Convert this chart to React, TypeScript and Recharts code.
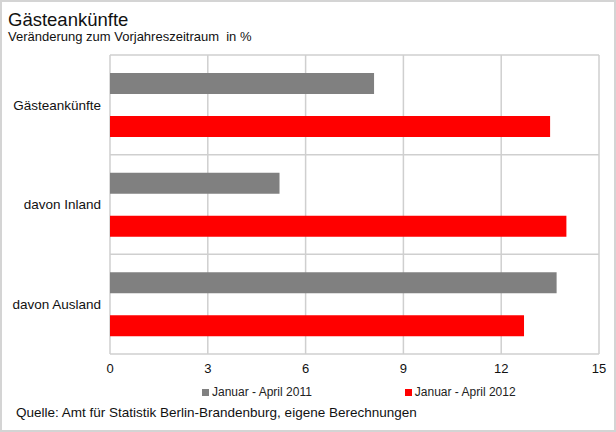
import { BarChart, Bar, XAxis, YAxis, CartesianGrid } from "recharts"

const CATEGORIES = ["Gästeankünfte", "davon Inland", "davon Ausland"]
const SERIES_2011 = [8.1, 5.2, 13.7]
const SERIES_2012 = [13.5, 14.0, 12.7]
const X_TICKS = [0, 3, 6, 9, 12, 15]
const SERIES = [
  { key: "y2011", name: "Januar - April 2011", color: "#808080" },
  { key: "y2012", name: "Januar - April 2012", color: "#ff0000" },
]

const data = CATEGORIES.map((c, i) => ({ cat: c, y2011: SERIES_2011[i], y2012: SERIES_2012[i] }))

const FONT = "'Liberation Sans', Arial, sans-serif"

// legend sits under the plot, a little right of centre like the original
function ChartLegend() {
  return (
    <div
      style={{
        position: "absolute",
        left: 200,
        top: 383,
        display: "flex",
        gap: 93,
        fontSize: 12,
        color: "#222",
        lineHeight: "14px",
      }}
    >
      {SERIES.map((s) => (
        <span key={s.key} style={{ display: "flex", alignItems: "center" }}>
          <span style={{ width: 7, height: 7, background: s.color, marginRight: 3, display: "inline-block" }} />
          {s.name}
        </span>
      ))}
    </div>
  )
}

export default function App() {
  return (
    <div
      style={{
        position: "absolute",
        left: 0,
        top: 0,
        width: 616,
        height: 432,
        boxSizing: "border-box",
        border: "2px solid #d4d4d4",
        background: "#fff",
        fontFamily: FONT,
        color: "#111",
      }}
    >
      <div style={{ position: "absolute", left: 6, top: 7, fontSize: 18.5, lineHeight: "21px" }}>Gästeankünfte</div>
      <div style={{ position: "absolute", left: 6, top: 27, fontSize: 13, lineHeight: "15px" }}>
        Veränderung zum Vorjahreszeitraum&nbsp; in %
      </div>
      <div style={{ position: "absolute", left: 0, top: 0 }}>
        <BarChart
          width={612}
          height={428}
          data={data}
          layout="vertical"
          margin={{ top: 53, right: 15, left: 8, bottom: 56 }}
          barGap={22}
          style={{ fontFamily: FONT }}
        >
          <CartesianGrid
            stroke="#cfcfcf"
            strokeWidth={1.5}
            horizontalCoordinatesGenerator={({ offset }: any) =>
              [0, 1, 2, 3].map((i) => offset.top + (i * offset.height) / 3)
            }
          />
          <XAxis
            type="number"
            domain={[0, 15]}
            ticks={X_TICKS}
            axisLine={false}
            tickLine={false}
            tickMargin={4}
            height={20}
            tick={{ fontSize: 13, fill: "#111" }}
          />
          <YAxis
            type="category"
            dataKey="cat"
            width={100}
            axisLine={false}
            tickLine={false}
            tickMargin={3}
            tick={{ fontSize: 13.5, fill: "#111" }}
          />
          {SERIES.map((s) => (
            <Bar key={s.key} dataKey={s.key} name={s.name} fill={s.color} barSize={21} isAnimationActive={false} />
          ))}
        </BarChart>
      </div>
      <ChartLegend />
      <div style={{ position: "absolute", left: 14, top: 403, fontSize: 13.5, lineHeight: "16px" }}>
        Quelle: Amt für Statistik Berlin-Brandenburg, eigene Berechnungen
      </div>
    </div>
  )
}
